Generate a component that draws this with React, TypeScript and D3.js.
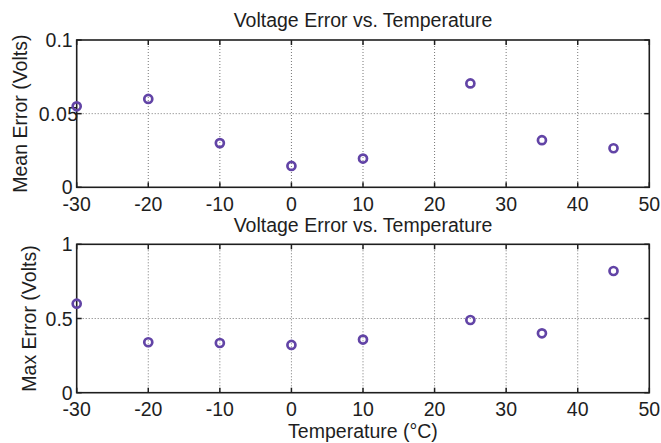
import React from "react";
import * as d3 from "d3";

const temps = [-30, -20, -10, 0, 10, 25, 35, 45];
const meanErr = [0.055, 0.06, 0.03, 0.0145, 0.0195, 0.0705, 0.032, 0.0265];
const maxErr = [0.6, 0.34, 0.335, 0.322, 0.358, 0.49, 0.4, 0.82];
const xTicks = [-30, -20, -10, 0, 10, 20, 30, 40, 50];
const meanTicks = [0, 0.05, 0.1];
const meanTickLabels = ["0", "0.05", "0.1"];
const maxTicks = [0, 0.5, 1];
const maxTickLabels = ["0", "0.5", "1"];
const title = "Voltage Error vs. Temperature";

const W = 661, H = 443;
const L = 76.7, R = 649.3;
const FONT = "'Liberation Sans', Arial, sans-serif";
const FS = 19.5;
const COLOR = "#6244a6";
const INK = "#1e1e1e";

function Panel({ top, bottom, values, ticks, tickLabels, yMax, ylabel, titleY, ylabelX }: any) {
  const x = d3.scaleLinear().domain([-30, 50]).range([L, R]);
  const y = d3.scaleLinear().domain([0, yMax]).range([bottom, top]);
  return (
    <g>
      <text x={(L + R) / 2} y={titleY} textAnchor="middle" fontSize={FS} fontFamily={FONT} fill={INK}>{title}</text>
      {xTicks.slice(1, -1).map((t) => (
        <line key={"gx" + t} x1={x(t)} x2={x(t)} y1={top} y2={bottom} stroke="#777" strokeWidth={1} strokeDasharray="1,2" />
      ))}
      {ticks.slice(1, -1).map((t: number) => (
        <line key={"gy" + t} x1={L} x2={R} y1={y(t)} y2={y(t)} stroke="#777" strokeWidth={1} strokeDasharray="1,2" />
      ))}
      {xTicks.map((t) => (
        <g key={"tx" + t}>
          <line x1={x(t)} x2={x(t)} y1={bottom} y2={bottom - 5} stroke={INK} strokeWidth={1.5} />
          <line x1={x(t)} x2={x(t)} y1={top} y2={top + 5} stroke={INK} strokeWidth={1.5} />
          <text x={x(t)} y={bottom + 23.5} textAnchor="middle" fontSize={FS} fontFamily={FONT} fill={INK}>{t}</text>
        </g>
      ))}
      {ticks.map((t: number, i: number) => (
        <g key={"ty" + t}>
          <line x1={L} x2={L + 5} y1={y(t)} y2={y(t)} stroke={INK} strokeWidth={1.5} />
          <line x1={R} x2={R - 5} y1={y(t)} y2={y(t)} stroke={INK} strokeWidth={1.5} />
          <text x={i === 1 && ticks[2] < 0.5 ? L + 2 : L - 4} y={y(t) + 7} textAnchor="end" fontSize={FS} fontFamily={FONT} fill={INK}
            letterSpacing={i === 1 && ticks[2] < 0.5 ? 0.5 : 0}>{tickLabels[i]}</text>
        </g>
      ))}
      <rect x={L} y={top} width={R - L} height={bottom - top} fill="none" stroke={INK} strokeWidth={1.6} />
      <text transform={`translate(${ylabelX},${(top + bottom) / 2}) rotate(-90)`} textAnchor="middle" fontSize={FS} fontFamily={FONT} fill={INK}>{ylabel}</text>
      {values.map((v: number, i: number) => (
        <circle key={i} cx={x(temps[i])} cy={y(v)} r={4} fill="none" stroke={COLOR} strokeWidth={2.7} />
      ))}
    </g>
  );
}

export default function App() {
  return (
    <svg width={W} height={H} style={{ display: "block", position: "absolute", left: 0, top: 0, background: "#fff" }}>
      <rect width={W} height={H} fill="#fff" />
      <Panel top={40} bottom={187.3} values={meanErr} ticks={meanTicks} tickLabels={meanTickLabels} yMax={0.1} ylabel="Mean Error (Volts)" titleY={27} ylabelX={27} />
      <Panel top={244.3} bottom={392.7} values={maxErr} ticks={maxTicks} tickLabels={maxTickLabels} yMax={1} ylabel="Max Error (Volts)" titleY={232} ylabelX={36} />
      <text x={(L + R) / 2} y={438} textAnchor="middle" fontSize={FS} fontFamily={FONT} fill={INK}>Temperature (°C)</text>
    </svg>
  );
}
